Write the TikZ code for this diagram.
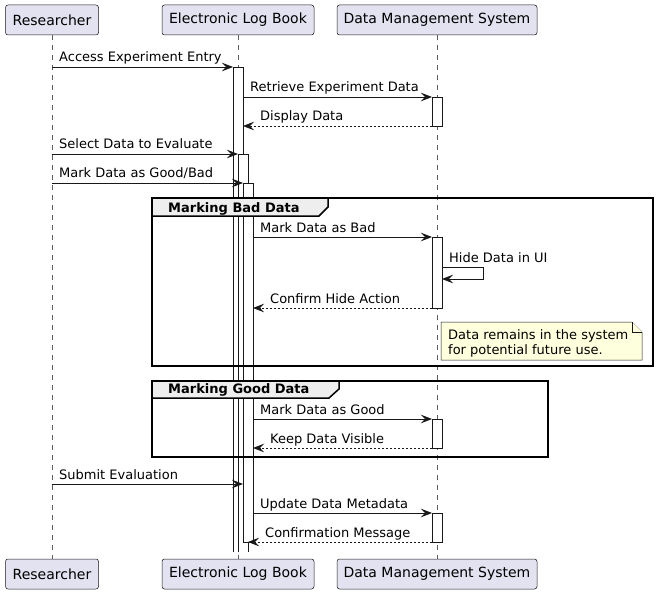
\documentclass[tikz,border=0pt]{standalone}
\usepackage{fontspec}
\setmainfont{DejaVu Sans}
\usetikzlibrary{arrows.meta}
\definecolor{partfill}{HTML}{E2E2F0}
\definecolor{ln}{HTML}{181818}
\definecolor{notefill}{HTML}{FEFFDD}
\definecolor{tabfill}{HTML}{EEEEEE}
\tikzset{
  part/.style={draw=ln, fill=partfill, rounded corners=2.5pt, line width=0.5pt,
    minimum height=30pt, inner sep=0pt, font=\fontsize{14}{16}\selectfont},
  life/.style={draw=ln!70, line width=0.5pt, dash pattern=on 5pt off 5pt},
  barfill/.style={fill=white},
  baredge/.style={draw=ln, line width=0.8pt},
  msg/.style={draw=ln, line width=0.8pt, -{Stealth[length=11pt,width=8.5pt,inset=4pt]}},
  ret/.style={msg, dash pattern=on 2pt off 2pt},
  lbl/.style={anchor=base west, inner sep=0pt, font=\fontsize{13}{15}\selectfont, text=black},
  grp/.style={draw=black, line width=1.5pt},
  grptab/.style={draw=black, fill=tabfill, line width=1.5pt},
  grplbl/.style={anchor=base west, inner sep=0pt, font=\bfseries\fontsize{13}{15}\selectfont, text=black},
  notebox/.style={draw=ln, fill=notefill, line width=0.5pt},
}
\begin{document}
\begin{tikzpicture}[x=1pt,y=-1pt]
\useasboundingbox (0,0) rectangle (657,594);
% participants
\node[part, minimum width=93pt] (rt) at (52,20) {Researcher};
\node[part, minimum width=152pt] (et) at (238,20) {Electronic Log Book};
\node[part, minimum width=200pt] (dt) at (437,20) {Data Management System};
\node[part, minimum width=93pt] (rb) at (52,574) {Researcher};
\node[part, minimum width=152pt] (eb) at (238,574) {Electronic Log Book};
\node[part, minimum width=200pt] (db) at (437,574) {Data Management System};
% lifelines
\draw[life] (rt.south) -- (rb.north);
\draw[life] (et.south) -- (eb.north);
\draw[life] (dt.south) -- (db.north);
% activation bars on Electronic Log Book
\path[barfill] (233,67) rectangle (243,552);
\draw[baredge] (233,552) -- (233,67) -- (243,67) -- (243,552);
\path[barfill] (238,154) rectangle (248,552);
\draw[baredge] (238,552) -- (238,154) -- (248,154) -- (248,552);
\draw[baredge, fill=white] (243,183) rectangle (253,542);
% activation bars on Data Management System
\draw[baredge, fill=white] (432,97) rectangle (442,126);
\draw[baredge, fill=white] (432,237) rectangle (442,308);
\draw[baredge, fill=white] (432,419) rectangle (442,448);
\draw[baredge, fill=white] (432,513) rectangle (442,542);
% groups
\draw[grp] (152,198) rectangle (653,366);
\draw[grptab] (152,198) -- (328,198) -- (328,207) -- (319,216) -- (152,216) -- cycle;
\node[grplbl] (g1) at (168,212) {Marking Bad Data};
\draw[grp] (152,381) rectangle (548,457);
\draw[grptab] (152,381) -- (339,381) -- (339,389) -- (329,398) -- (152,398) -- cycle;
\node[grplbl] (g2) at (168,393) {Marking Good Data};
% message end points
\coordinate (r1) at (52,67);   \coordinate (e1) at (233,67);
\coordinate (e2) at (243,97);  \coordinate (d2) at (432,97);
\coordinate (d3) at (432,126); \coordinate (e3) at (243,126);
\coordinate (r4) at (52,154);  \coordinate (e4) at (238,154);
\coordinate (r5) at (52,183);  \coordinate (e5) at (243,183);
\coordinate (e6) at (253,237); \coordinate (d6) at (432,237);
\coordinate (h1) at (442,267); \coordinate (h2) at (483,267);
\coordinate (h3) at (483,279); \coordinate (h4) at (442,279);
\coordinate (d8) at (432,308); \coordinate (e8) at (253,308);
\coordinate (e9) at (253,419); \coordinate (d9) at (432,419);
\coordinate (d10) at (432,448); \coordinate (e10) at (253,448);
\coordinate (r11) at (52,484); \coordinate (e11) at (243,484);
\coordinate (e12) at (253,513); \coordinate (d12) at (432,513);
\coordinate (d13) at (432,542); \coordinate (e13) at (248,542);
% messages
\draw[msg] (r1) -- (e1);
\node[lbl] (l1) at (59,62) {Access Experiment Entry};
\draw[msg] (e2) -- (d2);
\node[lbl] (l2) at (250,92) {Retrieve Experiment Data};
\draw[ret] (d3) -- (e3);
\node[lbl] (l3) at (260,121) {Display Data};
\draw[msg] (r4) -- (e4);
\node[lbl] (l4) at (59,149) {Select Data to Evaluate};
\draw[msg] (r5) -- (e5);
\node[lbl] (l5) at (59,178) {Mark Data as Good/Bad};
\draw[msg] (e6) -- (d6);
\node[lbl] (l6) at (260,232) {Mark Data as Bad};
\draw[msg] (h1) -- (h2) -- (h3) -- (h4);
\node[lbl] (l7) at (449,262) {Hide Data in UI};
\draw[ret] (d8) -- (e8);
\node[lbl] (l8) at (270,303) {Confirm Hide Action};
% note
\draw[notebox] (441,322) -- (632,322) -- (642,332) -- (642,360) -- (441,360) -- cycle;
\draw[notebox] (632,322) -- (632,332) -- (642,332);
\node[lbl] (n1) at (448,339) {Data remains in the system};
\node[lbl] (n2) at (448,354) {for potential future use.};
\draw[msg] (e9) -- (d9);
\node[lbl] (l9) at (260,414) {Mark Data as Good};
\draw[ret] (d10) -- (e10);
\node[lbl] (l10) at (270,443) {Keep Data Visible};
\draw[msg] (r11) -- (e11);
\node[lbl] (l11) at (59,479) {Submit Evaluation};
\draw[msg] (e12) -- (d12);
\node[lbl] (l12) at (260,508) {Update Data Metadata};
\draw[ret] (d13) -- (e13);
\node[lbl] (l13) at (265,537) {Confirmation Message};
\end{tikzpicture}
\end{document}
